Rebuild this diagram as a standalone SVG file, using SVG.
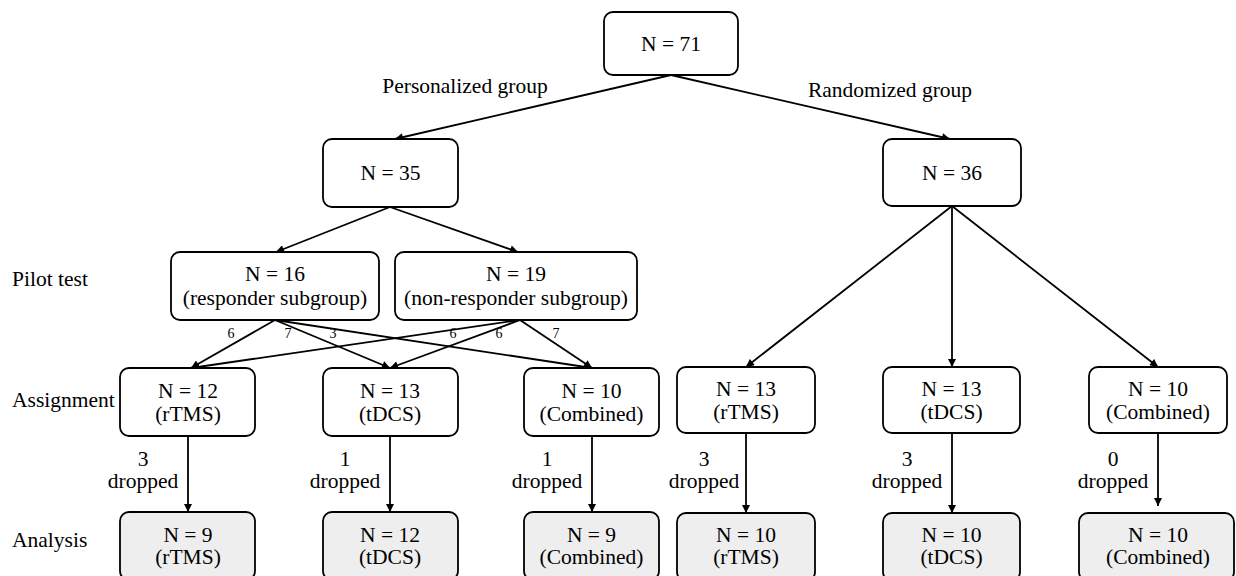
<svg xmlns="http://www.w3.org/2000/svg" width="1236" height="576" viewBox="0 0 1236 576">
<defs>
<marker id="ah" viewBox="0 0 10 10" refX="10" refY="5" markerWidth="9" markerHeight="8" markerUnits="userSpaceOnUse" orient="auto">
<path d="M0,0 L10,5 L0,10 z" fill="#000"/>
</marker>
<style>
text{font-family:'Liberation Serif','Times New Roman',serif;font-size:21.5px;fill:#000;}
.c{text-anchor:middle;}
.s{font-size:14px;text-anchor:middle;}
.box{fill:#fff;stroke:#000;stroke-width:1.8;}
.gbox{fill:#eeeeee;stroke:#000;stroke-width:1.8;}
.ln{stroke:#000;stroke-width:1.8;fill:none;marker-end:url(#ah);}
</style>
</defs>
<rect width="1236" height="576" fill="#fff"/>

<g id="row-labels" font-family="Liberation Serif, serif">
<text x="12" y="286">Pilot test</text>
<text x="12" y="407">Assignment</text>
<text x="12" y="547">Analysis</text>
<text class="c" x="465" y="93">Personalized group</text>
<text class="c" x="890" y="97">Randomized group</text>
</g>

<g id="connectors" font-family="Liberation Serif, serif">
<line class="ln" x1="671" y1="75" x2="395" y2="139"/>
<line class="ln" x1="671" y1="75" x2="950" y2="139"/>
<line class="ln" x1="390" y1="207" x2="276" y2="252"/>
<line class="ln" x1="390" y1="207" x2="518" y2="252"/>
<line class="ln" x1="275" y1="320" x2="191" y2="368"/>
<line class="ln" x1="275" y1="320" x2="390" y2="368"/>
<line class="ln" x1="275" y1="320" x2="592" y2="368"/>
<line class="ln" x1="520" y1="320" x2="191" y2="368"/>
<line class="ln" x1="520" y1="320" x2="390" y2="368"/>
<line class="ln" x1="520" y1="320" x2="592" y2="368"/>
<line class="ln" x1="952" y1="206" x2="746" y2="367"/>
<line class="ln" x1="952" y1="206" x2="952" y2="367"/>
<line class="ln" x1="952" y1="206" x2="1158" y2="367"/>
<line class="ln" x1="188" y1="436" x2="188" y2="512"/>
<line class="ln" x1="390" y1="436" x2="390" y2="512"/>
<line class="ln" x1="592" y1="436" x2="592" y2="512"/>
<line class="ln" x1="746" y1="433" x2="746" y2="513"/>
<line class="ln" x1="952" y1="433" x2="952" y2="513"/>
<line class="ln" x1="1158" y1="433" x2="1158" y2="506"/>
<text class="s" x="231" y="338">6</text>
<text class="s" x="288" y="338">7</text>
<text class="s" x="333" y="338">3</text>
<text class="s" x="453" y="338">6</text>
<text class="s" x="499" y="338">6</text>
<text class="s" x="556" y="338">7</text>
<text class="c" x="143" y="466">3</text>
<text class="c" x="143" y="488">dropped</text>
<text class="c" x="345" y="466">1</text>
<text class="c" x="345" y="488">dropped</text>
<text class="c" x="547" y="466">1</text>
<text class="c" x="547" y="488">dropped</text>
<text class="c" x="704" y="466">3</text>
<text class="c" x="704" y="488">dropped</text>
<text class="c" x="907" y="466">3</text>
<text class="c" x="907" y="488">dropped</text>
<text class="c" x="1113" y="466">0</text>
<text class="c" x="1113" y="488">dropped</text>
</g>

<g id="nodes" font-family="Liberation Serif, serif">
<g id="n71"><rect class="box" x="604" y="12" width="134" height="63" rx="9"/><text class="c" x="671" y="51">N = 71</text></g>
<g id="n35"><rect class="box" x="323" y="139" width="135" height="68" rx="9"/><text class="c" x="390.5" y="180">N = 35</text></g>
<g id="n36"><rect class="box" x="883" y="139" width="138" height="67" rx="9"/><text class="c" x="952" y="180">N = 36</text></g>

<g id="n16"><rect class="box" x="171" y="252" width="208" height="68" rx="9"/><text class="c" x="275" y="281">N = 16</text><text class="c" x="275" y="305">(responder subgroup)</text></g>
<g id="n19"><rect class="box" x="395" y="252" width="242" height="68" rx="9"/><text class="c" x="516" y="281">N = 19</text><text class="c" x="516" y="305">(non-responder subgroup)</text></g>

<g id="a-p-rtms"><rect class="box" x="120" y="368" width="135" height="68" rx="9"/><text class="c" x="188" y="398">N = 12</text><text class="c" x="188" y="421">(rTMS)</text></g>
<g id="a-p-tdcs"><rect class="box" x="323" y="368" width="135" height="68" rx="9"/><text class="c" x="390" y="398">N = 13</text><text class="c" x="390" y="421">(tDCS)</text></g>
<g id="a-p-comb"><rect class="box" x="524" y="368" width="135" height="68" rx="9"/><text class="c" x="591.5" y="398">N = 10</text><text class="c" x="591.5" y="421">(Combined)</text></g>
<g id="a-r-rtms"><rect class="box" x="677" y="367" width="138" height="66" rx="9"/><text class="c" x="746" y="396">N = 13</text><text class="c" x="746" y="419">(rTMS)</text></g>
<g id="a-r-tdcs"><rect class="box" x="883" y="367" width="137" height="66" rx="9"/><text class="c" x="951.5" y="396">N = 13</text><text class="c" x="951.5" y="419">(tDCS)</text></g>
<g id="a-r-comb"><rect class="box" x="1089" y="367" width="138" height="66" rx="9"/><text class="c" x="1158" y="396">N = 10</text><text class="c" x="1158" y="419">(Combined)</text></g>

<g id="z-p-rtms"><rect class="gbox" x="120" y="512" width="135" height="68" rx="9"/><text class="c" x="188" y="542">N = 9</text><text class="c" x="188" y="564">(rTMS)</text></g>
<g id="z-p-tdcs"><rect class="gbox" x="323" y="512" width="135" height="68" rx="9"/><text class="c" x="390" y="542">N = 12</text><text class="c" x="390" y="564">(tDCS)</text></g>
<g id="z-p-comb"><rect class="gbox" x="524" y="512" width="135" height="68" rx="9"/><text class="c" x="591.5" y="542">N = 9</text><text class="c" x="591.5" y="564">(Combined)</text></g>
<g id="z-r-rtms"><rect class="gbox" x="677" y="513" width="138" height="68" rx="9"/><text class="c" x="746" y="542">N = 10</text><text class="c" x="746" y="564">(rTMS)</text></g>
<g id="z-r-tdcs"><rect class="gbox" x="883" y="513" width="137" height="68" rx="9"/><text class="c" x="951.5" y="542">N = 10</text><text class="c" x="951.5" y="564">(tDCS)</text></g>
<g id="z-r-comb"><rect class="gbox" x="1079" y="513" width="155" height="68" rx="9"/><text class="c" x="1158" y="542">N = 10</text><text class="c" x="1158" y="564">(Combined)</text></g>
</g>
</svg>
